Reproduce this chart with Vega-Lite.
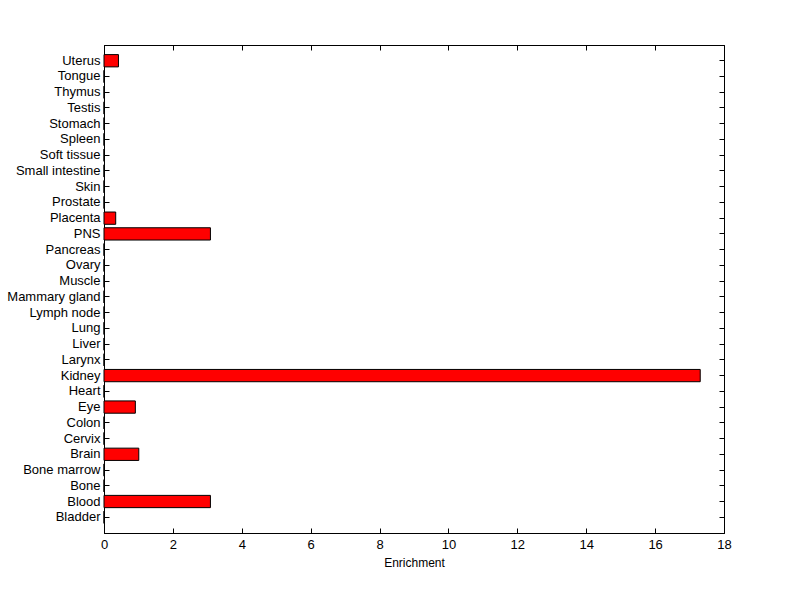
{
  "$schema": "https://vega.github.io/schema/vega-lite/v6.json",
  "width": 620,
  "height": 488,
  "autosize": {"type": "none"},
  "padding": {"left": 104, "top": 45, "right": 56, "bottom": 66},
  "background": "white",
  "config": {
    "view": {"stroke": "black", "strokeWidth": 1},
    "axis": {
      "domainColor": "black",
      "tickColor": "black",
      "labelColor": "black",
      "titleColor": "black",
      "labelFont": "Liberation Sans",
      "titleFont": "Liberation Sans",
      "labelFontSize": 13,
      "titleFontSize": 12,
      "titleFontWeight": "normal",
      "grid": false,
      "tickSize": -5,
      "labelFlush": false
    }
  },
  "data": {
    "values": [
      {"tissue": "Uterus", "enrichment": 0.42},
      {"tissue": "Tongue", "enrichment": 0},
      {"tissue": "Thymus", "enrichment": 0},
      {"tissue": "Testis", "enrichment": 0},
      {"tissue": "Stomach", "enrichment": 0},
      {"tissue": "Spleen", "enrichment": 0},
      {"tissue": "Soft tissue", "enrichment": 0},
      {"tissue": "Small intestine", "enrichment": 0},
      {"tissue": "Skin", "enrichment": 0},
      {"tissue": "Prostate", "enrichment": 0},
      {"tissue": "Placenta", "enrichment": 0.34},
      {"tissue": "PNS", "enrichment": 3.09},
      {"tissue": "Pancreas", "enrichment": 0},
      {"tissue": "Ovary", "enrichment": 0},
      {"tissue": "Muscle", "enrichment": 0},
      {"tissue": "Mammary gland", "enrichment": 0},
      {"tissue": "Lymph node", "enrichment": 0},
      {"tissue": "Lung", "enrichment": 0},
      {"tissue": "Liver", "enrichment": 0},
      {"tissue": "Larynx", "enrichment": 0},
      {"tissue": "Kidney", "enrichment": 17.31},
      {"tissue": "Heart", "enrichment": 0},
      {"tissue": "Eye", "enrichment": 0.91},
      {"tissue": "Colon", "enrichment": 0},
      {"tissue": "Cervix", "enrichment": 0},
      {"tissue": "Brain", "enrichment": 1.01},
      {"tissue": "Bone marrow", "enrichment": 0},
      {"tissue": "Bone", "enrichment": 0},
      {"tissue": "Blood", "enrichment": 3.09},
      {"tissue": "Bladder", "enrichment": 0}
    ]
  },
  "resolve": {"axis": {"x": "independent", "y": "independent"}},
  "layer": [
    {
      "mark": {"type": "bar", "fill": "#ff0000", "stroke": "black", "strokeWidth": 1},
      "encoding": {
        "x": {
          "field": "enrichment", "type": "quantitative",
          "scale": {"domain": [0, 18], "nice": false},
          "axis": {"orient": "bottom", "title": "Enrichment", "values": [0,2,4,6,8,10,12,14,16,18], "labelPadding": 10, "titlePadding": 6}
        },
        "y": {
          "field": "tissue", "type": "nominal", "sort": null,
          "scale": {"paddingInner": 0.22, "paddingOuter": 0.61},
          "axis": {"orient": "left", "title": null, "labelPadding": 9}
        }
      }
    },
    {
      "mark": {"type": "bar", "opacity": 0},
      "encoding": {
        "x": {
          "field": "enrichment", "type": "quantitative",
          "axis": {"orient": "top", "title": null, "labels": false, "values": [0,2,4,6,8,10,12,14,16,18]}
        },
        "y": {
          "field": "tissue", "type": "nominal", "sort": null,
          "axis": {"orient": "right", "title": null, "labels": false}
        }
      }
    }
  ]
}
